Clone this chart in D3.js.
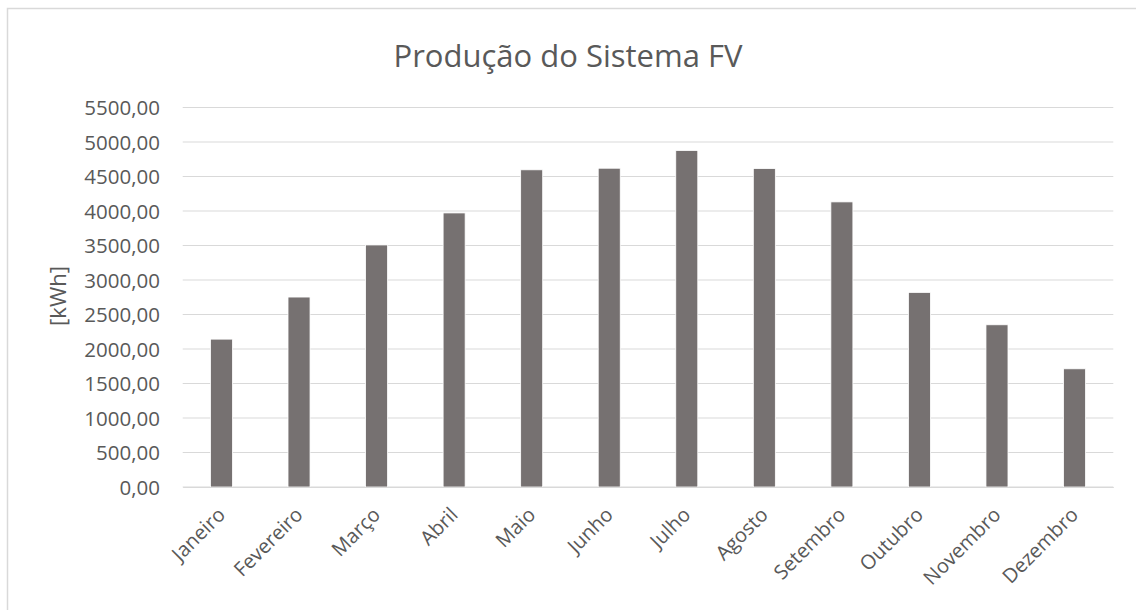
<!DOCTYPE html>
<html><head><meta charset="utf-8">
<script src="https://cdn.jsdelivr.net/npm/d3@7"></script>
<style>body{margin:0;background:#fff;} svg{display:block;}</style>
</head><body>
<svg id="c" width="1136" height="610"></svg>
<script>
const months = ["Janeiro","Fevereiro","Março","Abril","Maio","Junho","Julho","Agosto","Setembro","Outubro","Novembro","Dezembro"];
const production = [2143, 2753, 3508, 3972, 4597, 4620, 4877, 4615, 4132, 2820, 2351, 1713];
const yTicks = [0,500,1000,1500,2000,2500,3000,3500,4000,4500,5000,5500];
const titleText = "Produção do Sistema FV";
const yLabel = "[kWh]";

(function(){
const svg = d3.select("#c");
const font = "'Open Sans', sans-serif";
const textColor = "#595959";
const pLeft = 182.7, pRight = 1113.3, pTop = 107.5, pBottom = 487;

svg.append("rect").attr("x",7.5).attr("y",8.5).attr("width",1140).attr("height",620)
  .attr("fill","#fff").attr("stroke","#d9d9d9").attr("stroke-width",1.5);

const x = d3.scaleBand().domain(months).range([pLeft,pRight]).paddingInner(0.716).paddingOuter(0.358);
const y = d3.scaleLinear().domain([0,5500]).range([pBottom,pTop]);
const fmt = v => d3.format(".2f")(v).replace(".", ",");

svg.append("g").selectAll("line").data(yTicks).join("line")
  .attr("x1",pLeft).attr("x2",pRight)
  .attr("y1",d=>y(d)).attr("y2",d=>y(d))
  .attr("stroke","#d9d9d9").attr("stroke-width",1.2);

const yAxis = d3.axisLeft(y).tickValues(yTicks).tickFormat(fmt).tickSize(0).tickPadding(0);
const gy = svg.append("g").attr("transform",`translate(160,0)`).call(yAxis);
gy.select(".domain").remove();
gy.selectAll("text").attr("font-family",font).attr("font-size",20.5).attr("fill",textColor).attr("dy","0.35em");

svg.append("g").selectAll("rect").data(production).join("rect")
  .attr("x",(d,i)=>x(months[i])).attr("width",x.bandwidth())
  .attr("y",d=>y(d)).attr("height",d=>pBottom-y(d))
  .attr("fill","#767171").attr("stroke","#fff").attr("stroke-width",0.8);

const xAxis = d3.axisBottom(x).tickSize(0).tickPadding(0);
const gx = svg.append("g").attr("transform",`translate(0,${pBottom})`).call(xAxis);
gx.select(".domain").attr("stroke","#d9d9d9").attr("stroke-width",1.2);
gx.selectAll("text").attr("font-family",font).attr("font-size",20).attr("fill",textColor)
  .attr("text-anchor","end").attr("dy",null)
  .attr("transform","translate(5,29) rotate(-45)");

svg.append("text").attr("x",568).attr("y",67).attr("text-anchor","middle")
  .attr("font-family",font).attr("font-size",31).attr("fill",textColor).text(titleText);

svg.append("text").attr("transform","translate(66,296) rotate(-90)").attr("text-anchor","middle")
  .attr("font-family",font).attr("font-size",22).attr("fill",textColor).text(yLabel);
})();
</script>
</body></html>
